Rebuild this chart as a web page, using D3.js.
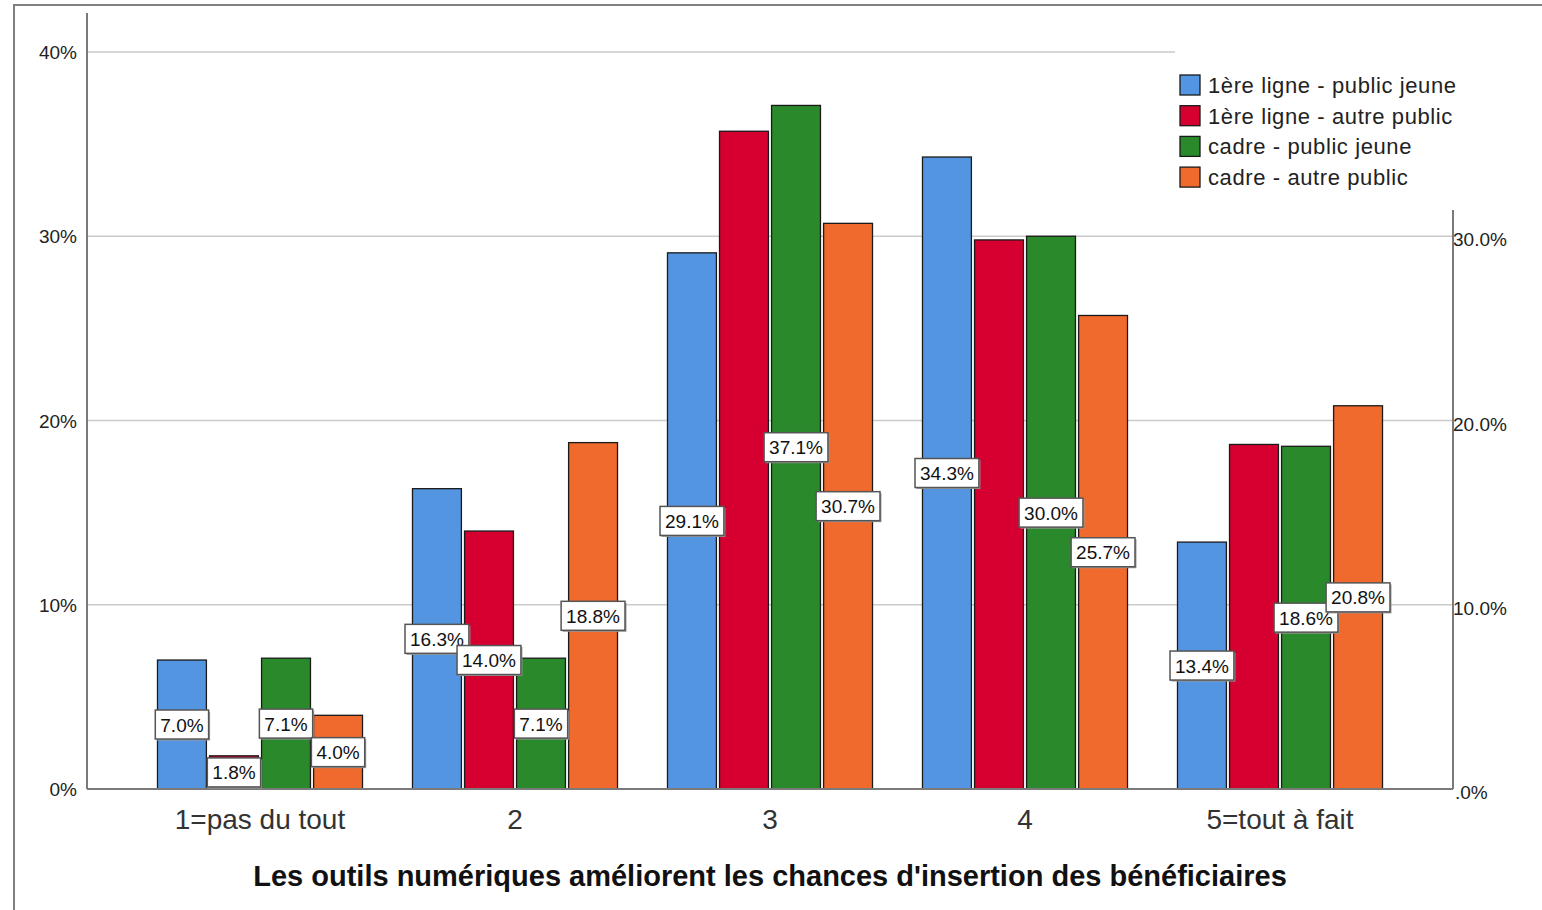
<!DOCTYPE html>
<html><head><meta charset="utf-8">
<script src="https://cdn.jsdelivr.net/npm/d3@7/dist/d3.min.js"></script>
<style>body{margin:0;background:#fff;}svg{display:block;font-family:"Liberation Sans",Arial,sans-serif;}</style>
</head><body>
<svg id="c" width="1542" height="910"></svg>
<script>
const categories = ["1=pas du tout", "2", "3", "4", "5=tout à fait"];
const seriesNames = ["1ère ligne - public jeune", "1ère ligne - autre public", "cadre - public jeune", "cadre - autre public"];
const seriesColors = ["#5495E1", "#D5002F", "#2A892B", "#F16A2D"];
const s1 = [7.0, 16.3, 29.1, 34.3, 13.4];
const s2 = [1.8, 14.0, 35.7, 29.8, 18.7];
const s3 = [7.1, 7.1, 37.1, 30.0, 18.6];
const s4 = [4.0, 18.8, 30.7, 25.7, 20.8];
const seriesValues = [s1, s2, s3, s4];
// which bars show a value label (hidden ones were suppressed in the original)
const showLabel = [
  [true, true, true, true, true],
  [true, true, false, false, false],
  [true, true, true, true, true],
  [true, true, true, true, true]
];
const leftTicks = [0, 10, 20, 30, 40];
const leftTickLabels = ["0%", "10%", "20%", "30%", "40%"];
const rightTicks = [0, 10, 20, 30];
const rightTickLabels = [".0%", "10.0%", "20.0%", "30.0%"];
const xTitle = "Les outils numériques améliorent les chances d'insertion des bénéficiaires";

const svg = d3.select("#c");
const L = 87, R = 1453, B = 789;
const y = d3.scaleLinear().domain([0, 40]).range([B, 52]);
const x0 = d3.scaleBand().domain(categories).range([132.5, 1407.5]).paddingInner(0.196).paddingOuter(0.098);
const x1 = d3.scaleBand().domain(d3.range(4)).range([0, x0.bandwidth()]).paddingInner(0.06).paddingOuter(0);

// frame
svg.append("rect").attr("x", 14).attr("y", 5).attr("width", 1560).attr("height", 960)
  .attr("fill", "none").attr("stroke", "#808080").attr("stroke-width", 2);

// gridlines
svg.append("g").selectAll("line").data(leftTicks.filter(t => t > 0)).join("line")
  .attr("x1", L).attr("x2", t => t === 40 ? 1175 : R)
  .attr("y1", t => y(t)).attr("y2", t => y(t))
  .attr("stroke", "#cbcbcb").attr("stroke-width", 1.5);

// bars
const g = svg.append("g");
seriesValues.forEach((vals, si) => {
  g.selectAll(null).data(vals).join("rect")
    .attr("x", (d, i) => x0(categories[i]) + x1(si))
    .attr("y", d => y(d))
    .attr("width", x1.bandwidth())
    .attr("height", d => B - y(d))
    .attr("fill", seriesColors[si])
    .attr("stroke", "#1a1a1a").attr("stroke-width", 1.3);
});

// axes lines
svg.append("line").attr("x1", L).attr("x2", L).attr("y1", 13).attr("y2", B).attr("stroke", "#7a7a7a").attr("stroke-width", 2);
svg.append("line").attr("x1", R).attr("x2", R).attr("y1", 210).attr("y2", B).attr("stroke", "#7a7a7a").attr("stroke-width", 2);
svg.append("line").attr("x1", L).attr("x2", R).attr("y1", B).attr("y2", B).attr("stroke", "#7a7a7a").attr("stroke-width", 2);

// left tick labels
svg.append("g").selectAll("text").data(leftTicks).join("text")
  .attr("x", 77).attr("y", t => y(t) + 7)
  .attr("text-anchor", "end").attr("font-size", 19).attr("fill", "#222")
  .text((t, i) => leftTickLabels[i]);
// right tick labels
svg.append("g").selectAll("text").data(rightTicks).join("text")
  .attr("x", t => t === 0 ? 1455 : 1453).attr("y", t => y(t) + 10)
  .attr("text-anchor", "start").attr("font-size", 19).attr("fill", "#222")
  .text((t, i) => rightTickLabels[i]);

// value labels
const lab = svg.append("g");
seriesValues.forEach((vals, si) => {
  vals.forEach((v, i) => {
    if (!showLabel[si][i]) return;
    const cx = x0(categories[i]) + x1(si) + x1.bandwidth() / 2;
    const cy = y(v / 2);
    const txt = v.toFixed(1) + "%";
    const grp = lab.append("g");
    const shadow = grp.append("rect").attr("fill", "#9a9a9a");
    const box = grp.append("rect").attr("fill", "#fff").attr("stroke", "#555").attr("stroke-width", 1.5);
    const t = grp.append("text").attr("x", cx).attr("y", cy + 7).attr("text-anchor", "middle")
      .attr("font-size", 19).attr("fill", "#111").text(txt);
    const w = t.node().getComputedTextLength() + 10, h = 29;
    shadow.attr("x", cx - w / 2 + 1.5).attr("y", cy - h / 2 + 1.5).attr("width", w).attr("height", h);
    box.attr("x", cx - w / 2).attr("y", cy - h / 2).attr("width", w).attr("height", h);
  });
});

// category labels
svg.append("g").selectAll("text").data(categories).join("text")
  .attr("x", d => x0(d) + x0.bandwidth() / 2).attr("y", 829)
  .attr("text-anchor", "middle").attr("font-size", 28).attr("fill", "#333")
  .text(d => d);

// x title
svg.append("text").attr("x", 770).attr("y", 886).attr("text-anchor", "middle")
  .attr("font-size", 29).attr("font-weight", "bold").attr("fill", "#111").text(xTitle);

// legend
const lg = svg.append("g");
seriesNames.forEach((n, i) => {
  const yy = 85 + i * 30.7;
  lg.append("rect").attr("x", 1180).attr("y", yy - 10).attr("width", 20).attr("height", 20)
    .attr("fill", seriesColors[i]).attr("stroke", "#1a1a1a").attr("stroke-width", 1.3);
  lg.append("text").attr("x", 1208).attr("y", yy + 8).attr("font-size", 22).attr("letter-spacing", 0.6)
    .attr("fill", "#222").text(n);
});
</script>
</body></html>
